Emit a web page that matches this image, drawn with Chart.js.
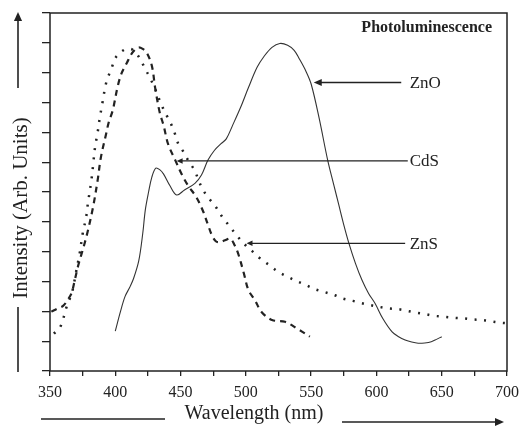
<!DOCTYPE html>
<html>
<head>
<meta charset="utf-8">
<script src="https://cdn.jsdelivr.net/npm/chart.js@4"></script>
<style>
  body { margin: 0; background: #fff; }
  canvas { display: block; }
</style>
</head>
<body>
<canvas id="plChart" width="526" height="427"></canvas>
<script>
// ZnO (solid line)
const znoWavelength = [400, 404, 407.5, 411, 414, 418, 421, 423, 425.5, 428, 431, 434, 437, 442, 447, 453, 461, 466, 471, 476, 481, 485, 490, 496, 502, 508.6, 514, 520, 526, 532, 537, 541, 546, 550, 556, 562.7, 567, 571, 575, 579, 584, 589, 594, 599, 605, 612, 617, 622, 627, 632, 637, 642, 646, 650];
const znoIntensity = [1.34, 2.0, 2.5, 2.8, 3.1, 3.7, 4.6, 5.4, 6.0, 6.5, 6.8, 6.75, 6.6, 6.2, 5.9, 6.07, 6.29, 6.57, 7.07, 7.4, 7.62, 7.78, 8.25, 8.84, 9.5, 10.18, 10.55, 10.85, 10.98, 10.92, 10.75, 10.46, 10.05, 9.62, 8.5, 7.06, 6.3, 5.6, 4.9, 4.27, 3.6, 3.04, 2.6, 2.26, 1.75, 1.31, 1.15, 1.04, 0.97, 0.93, 0.94, 0.98, 1.06, 1.15];

// CdS (dashed line)
const cdsWavelength = [351, 356, 360, 363, 366.4, 369, 371.4, 374, 376, 379, 383, 386.5, 389, 393, 395, 398, 402, 405, 409, 412, 415.5, 418, 421, 424, 428, 430.5, 434, 437, 440.5, 446, 450.7, 455.7, 462, 467, 471, 474, 477, 480, 484, 488, 491, 494, 498.5, 502, 507, 512, 520, 530, 539, 549];
const cdsIntensity = [1.99, 2.1, 2.18, 2.35, 2.6, 3.05, 3.5, 3.9, 4.2, 4.7, 5.5, 6.4, 7.17, 7.95, 8.34, 8.73, 9.57, 10.0, 10.34, 10.6, 10.79, 10.85, 10.8, 10.68, 10.23, 9.5, 8.67, 8.23, 7.6, 7.06, 6.61, 6.22, 5.83, 5.38, 4.9, 4.55, 4.35, 4.32, 4.38, 4.44, 4.25, 3.95, 3.27, 2.71, 2.37, 1.98, 1.71, 1.65, 1.43, 1.15];

// ZnS (dotted line)
const znsWavelength = [353, 358, 362.6, 367, 370, 372.7, 375, 377.7, 379, 381.5, 383, 384.5, 386.5, 388, 390, 392.8, 395.3, 397.8, 400.3, 406.6, 411.7, 415, 419, 423, 426.8, 431, 435.6, 439.4, 443, 445.7, 448.2, 452, 456, 460.8, 463.3, 467, 472, 477, 482, 487, 492, 498.5, 504.8, 511, 518, 525, 532, 539, 546, 553, 560, 568, 574, 582, 588, 595, 602, 609, 617, 623, 630, 637, 644, 652, 660, 667, 673, 680, 687, 695, 700];
const znsIntensity = [1.25, 1.49, 2.13, 2.66, 3.33, 3.94, 4.6, 5.16, 5.61, 6.33, 6.9, 7.5, 8.0, 8.45, 8.95, 9.62, 9.95, 10.23, 10.51, 10.76, 10.8, 10.7, 10.46, 10.12, 9.81, 9.4, 8.9, 8.56, 8.25, 7.95, 7.62, 7.36, 7.05, 6.72, 6.45, 6.08, 5.77, 5.5, 5.16, 4.88, 4.6, 4.27, 4.02, 3.77, 3.55, 3.32, 3.16, 3.01, 2.88, 2.74, 2.65, 2.54, 2.43, 2.35, 2.28, 2.21, 2.15, 2.1, 2.07, 2.02, 1.96, 1.91, 1.85, 1.82, 1.78, 1.76, 1.73, 1.71, 1.67, 1.62, 1.6];

// callout labels with their arrow tip / tail (nm) and level (intensity)
const calloutLabels = ["ZnO", "CdS", "ZnS"];
const calloutTip = [552, 447, 500.5];
const calloutTail = [619, 624, 622];
const calloutLevel = [9.67, 7.04, 4.28];
const calloutTextAt = 625.5;

const xTickStep = 25;
const xLabelStep = 50;

const SERIF = "'Liberation Serif', 'DejaVu Serif', serif";

function pts(xs, ys) {
  return xs.map((x, i) => ({ x, y: ys[i] }));
}

function arrow(ctx, x1, y1, x2, y2, head) {
  // line from (x1,y1) to tip (x2,y2), filled head at the tip
  const a = Math.atan2(y2 - y1, x2 - x1);
  ctx.beginPath();
  ctx.moveTo(x1, y1);
  ctx.lineTo(x2 - Math.cos(a) * head * 0.8, y2 - Math.sin(a) * head * 0.8);
  ctx.stroke();
  ctx.beginPath();
  ctx.moveTo(x2, y2);
  ctx.lineTo(x2 - head * Math.cos(a) + head * 0.45 * Math.sin(a), y2 - head * Math.sin(a) - head * 0.45 * Math.cos(a));
  ctx.lineTo(x2 - head * Math.cos(a) - head * 0.45 * Math.sin(a), y2 - head * Math.sin(a) + head * 0.45 * Math.cos(a));
  ctx.closePath();
  ctx.fill();
}

const decorations = {
  id: "decorations",
  afterDraw(chart) {
    const { ctx, chartArea: area, scales } = chart;
    const xs = scales.x, ys = scales.y;
    ctx.save();
    ctx.strokeStyle = "#222";
    ctx.fillStyle = "#222";

    // frame
    ctx.lineWidth = 1.5;
    ctx.strokeRect(area.left, area.top, area.right - area.left, area.bottom - area.top);

    // callouts
    ctx.lineWidth = 1.3;
    ctx.font = "17px " + SERIF;
    ctx.textBaseline = "middle";
    ctx.textAlign = "left";
    calloutLabels.forEach((lab, i) => {
      const y = ys.getPixelForValue(calloutLevel[i]);
      arrow(ctx, xs.getPixelForValue(calloutTail[i]), y, xs.getPixelForValue(calloutTip[i]), y, i === 0 ? 8 : 6);
      ctx.fillText(lab, xs.getPixelForValue(calloutTextAt), y + 1);
    });

    // panel title
    ctx.font = "bold 16px " + SERIF;
    ctx.textAlign = "right";
    ctx.fillText("Photoluminescence", area.right - 15, area.top + 15);

    // x axis title with leading line and trailing arrow
    ctx.font = "20px " + SERIF;
    ctx.textAlign = "center";
    ctx.fillText("Wavelength (nm)", 254, 414);
    ctx.lineWidth = 1.6;
    ctx.beginPath();
    ctx.moveTo(41, 419);
    ctx.lineTo(165, 419);
    ctx.stroke();
    arrow(ctx, 342, 422, 504, 422, 9);

    // y axis title with arrow above and line below
    ctx.save();
    ctx.translate(21, 208);
    ctx.rotate(-Math.PI / 2);
    ctx.font = "21px " + SERIF;
    ctx.fillText("Intensity (Arb. Units)", 0, 0);
    ctx.restore();
    arrow(ctx, 18, 88, 18, 12, 9);
    ctx.beginPath();
    ctx.moveTo(18, 307);
    ctx.lineTo(18, 372);
    ctx.stroke();

    ctx.restore();
  }
};

new Chart(document.getElementById("plChart").getContext("2d"), {
  type: "line",
  data: {
    datasets: [
      {
        label: "ZnO",
        data: pts(znoWavelength, znoIntensity),
        borderColor: "#333",
        borderWidth: 1.1,
        tension: 0.35,
      },
      {
        label: "CdS",
        data: pts(cdsWavelength, cdsIntensity),
        borderColor: "#222",
        borderWidth: 2.2,
        borderDash: [6, 5],
        tension: 0.35,
      },
      {
        label: "ZnS",
        data: pts(znsWavelength, znsIntensity),
        borderColor: "#222",
        borderWidth: 2.5,
        borderDash: [2, 7.5],
        tension: 0.35,
      },
    ],
  },
  options: {
    responsive: false,
    animation: false,
    parsing: false,
    elements: { point: { radius: 0 } },
    layout: { padding: { left: 0, right: 13, top: 13, bottom: 0 } },
    plugins: { legend: { display: false }, tooltip: { enabled: false } },
    scales: {
      x: {
        type: "linear",
        min: 350,
        max: 700,
        afterFit(s) { s.height = 56; },
        border: { display: false },
        grid: { drawOnChartArea: false, drawTicks: true, tickLength: 5, color: "#222", lineWidth: 1.3 },
        ticks: {
          stepSize: xTickStep,
          autoSkip: false,
          maxRotation: 0,
          padding: 7,
          color: "#222",
          font: { family: SERIF, size: 16 },
          callback: (v) => (v % xLabelStep === 0 ? String(v) : ""),
        },
      },
      y: {
        type: "linear",
        min: 0,
        max: 12,
        afterFit(s) { s.width = 50; },
        border: { display: false },
        grid: { drawOnChartArea: false, drawTicks: true, tickLength: 8, color: "#222", lineWidth: 1.3 },
        ticks: { stepSize: 1, display: false },
      },
    },
  },
  plugins: [decorations],
});
</script>
</body>
</html>
